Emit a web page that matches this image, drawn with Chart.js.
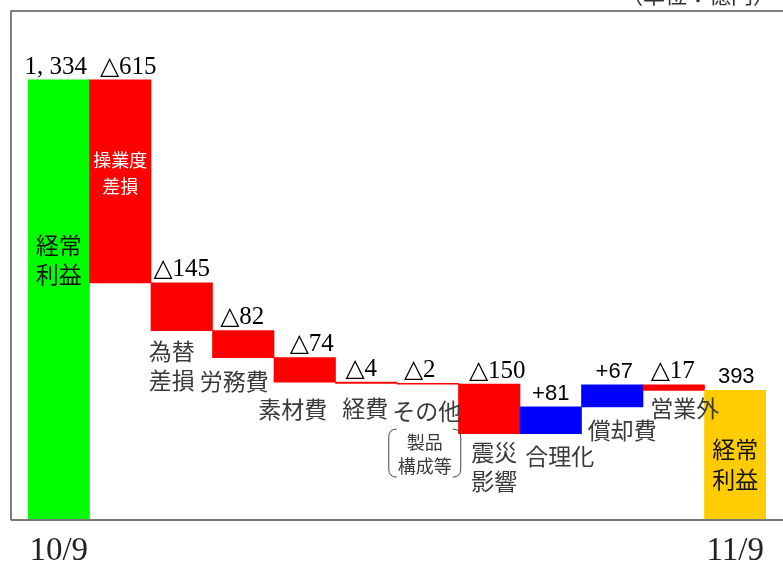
<!DOCTYPE html>
<html>
<head>
<meta charset="utf-8">
<script src="https://cdn.jsdelivr.net/npm/chart.js@4/dist/chart.umd.min.js"></script>
<style>
  html, body { margin: 0; padding: 0; background: #fff; }
  #wrap { width: 783px; height: 565px; position: relative; }
</style>
</head>
<body>
<div id="wrap"><canvas id="chart"></canvas></div>
<script>
// waterfall data (億円)
const categories = ['経常利益', '操業度差損', '為替差損', '労務費', '素材費', '経費', 'その他', '震災影響', '合理化', '償却費', '営業外', '経常利益'];
const tickLabels = ['10/9', '', '', '', '', '', '', '', '', '', '', '11/9'];
const startValue = 1334;
const changes = [-615, -145, -82, -74, -4, -2, -150, 81, 67, -17];
const endValue = 393;
const valueLabels = ['1, 334', '△615', '△145', '△82', '△74', '△4', '△2', '△150', '+81', '+67', '△17', '393'];
const labelLines = [['経常', '利益'], ['操業度', '差損'], ['為替', '差損'], ['労務費'], ['素材費'], ['経費'], ['その他'], ['震災', '影響'], ['合理化'], ['償却費'], ['営業外'], ['経常', '利益']];
const noteLines = ['製品', '構成等'];

// build floating bars from the deltas
const bars = [[0, startValue]];
let level = startValue;
changes.forEach((c) => {
  bars.push([level, level + c]);
  level += c;
});
bars.push([0, endValue]);

const colors = bars.map((b, i) => {
  if (i === 0) return '#00FF00';
  if (i === bars.length - 1) return '#FFCC00';
  return b[1] < b[0] ? '#FF0000' : '#0000FF';
});

// label placement: inside the bar (from its top) or under it (from its bottom)
const labelPlace = [
  { mode: 'in', dx: 0, dy: [165, 194], color: '#111', size: 23 },
  { mode: 'in', dx: 0, dy: [80, 106], color: '#fff', size: 18 },
  { mode: 'below', dx: -10, dy: [21, 50] },
  { mode: 'below', dx: -9, dy: [24] },
  { mode: 'below', dx: -12, dy: [27] },
  { mode: 'below', dx: -1, dy: [25] },
  { mode: 'below', dx: -1, dy: [27] },
  { mode: 'below', dx: 5, dy: [19, 48] },
  { mode: 'below', dx: 9, dy: [23] },
  { mode: 'below', dx: 10, dy: [23] },
  { mode: 'below', dx: 11, dy: [18] },
  { mode: 'in', dx: 0, dy: [59, 89], color: '#111', size: 23 }
];
const valueNudge = [-3, 8, 0, -1, 7, -5, -8, 8, 0, 2, -1, 1];

const SERIF = '"Liberation Serif", "DejaVu Serif", serif';
const SANS = '"Noto Sans CJK JP", "Noto Sans", sans-serif';

const annotate = {
  id: 'annotate',
  afterDatasetsDraw(chart) {
    const ctx = chart.ctx;
    const meta = chart.getDatasetMeta(0);
    ctx.save();
    ctx.textAlign = 'center';
    ctx.textBaseline = 'middle';

    meta.data.forEach((bar, i) => {
      const top = Math.min(bar.y, bar.base);
      const bottom = Math.max(bar.y, bar.base);

      // value above the bar
      const txt = valueLabels[i];
      const sans = txt.startsWith('+') || i === bars.length - 1;
      ctx.fillStyle = '#000';
      ctx.font = sans ? '22px "Liberation Sans", Arial, sans-serif' : '25px ' + SERIF;
      ctx.fillText(txt, bar.x + valueNudge[i], top - 13);

      // category name
      const p = labelPlace[i];
      ctx.fillStyle = p.color || '#3a3a3a';
      ctx.font = (p.size || 23) + 'px ' + SANS;
      labelLines[i].forEach((line, k) => {
        const y = p.mode === 'in' ? top + p.dy[k] : bottom + p.dy[k];
        ctx.fillText(line, bar.x + p.dx, y);
      });

      // bracketed note under その他
      if (i === 6) {
        const cx = bar.x - 3;
        ctx.fillStyle = '#3a3a3a';
        ctx.font = '18px ' + SANS;
        ctx.fillText(noteLines[0], cx, bottom + 58);
        ctx.fillText(noteLines[1], cx, bottom + 82);
        ctx.strokeStyle = '#444';
        ctx.lineWidth = 1;
        const y0 = bottom + 45, y1 = bottom + 93;
        ctx.beginPath();
        ctx.moveTo(cx - 28, y0);
        ctx.quadraticCurveTo(cx - 36, y0, cx - 36, y0 + 8);
        ctx.lineTo(cx - 36, y1 - 8);
        ctx.quadraticCurveTo(cx - 36, y1, cx - 28, y1);
        ctx.moveTo(cx + 28, y0);
        ctx.quadraticCurveTo(cx + 36, y0, cx + 36, y0 + 8);
        ctx.lineTo(cx + 36, y1 - 8);
        ctx.quadraticCurveTo(cx + 36, y1, cx + 28, y1);
        ctx.stroke();
      }
    });

    // frame
    const a = chart.chartArea;
    ctx.strokeStyle = '#555';
    ctx.lineWidth = 1.5;
    ctx.beginPath();
    ctx.moveTo(chart.width, a.top);
    ctx.lineTo(11, a.top);
    ctx.lineTo(11, a.bottom);
    ctx.stroke();
    ctx.strokeStyle = '#777';
    ctx.lineWidth = 2;
    ctx.beginPath();
    ctx.moveTo(11, a.bottom);
    ctx.lineTo(chart.width, a.bottom);
    ctx.stroke();

    // unit note, cut off at the top
    ctx.fillStyle = '#333';
    ctx.font = '22px ' + SANS;
    ctx.textAlign = 'right';
    ctx.textBaseline = 'alphabetic';
    ctx.fillText('（単位：億円）', 775, 3);
    ctx.restore();
  }
};

new Chart(document.getElementById('chart'), {
  type: 'bar',
  data: {
    labels: tickLabels,
    datasets: [{
      data: bars,
      backgroundColor: colors,
      borderWidth: 0,
      barPercentage: 1,
      categoryPercentage: 1
    }]
  },
  options: {
    responsive: true,
    maintainAspectRatio: false,
    animation: false,
    layout: { padding: { left: 28, right: 17, top: 11, bottom: 2 } },
    plugins: { legend: { display: false }, tooltip: { enabled: false } },
    scales: {
      x: {
        grid: { display: false },
        border: { display: false },
        afterFit(scale) { scale.height = 43; },
        ticks: {
          autoSkip: false,
          maxRotation: 0,
          padding: 4,
          color: '#222',
          font: { family: SERIF, size: 33 }
        }
      },
      y: { display: false, min: 0, max: 1543 }
    }
  },
  plugins: [annotate]
});
</script>
</body>
</html>
